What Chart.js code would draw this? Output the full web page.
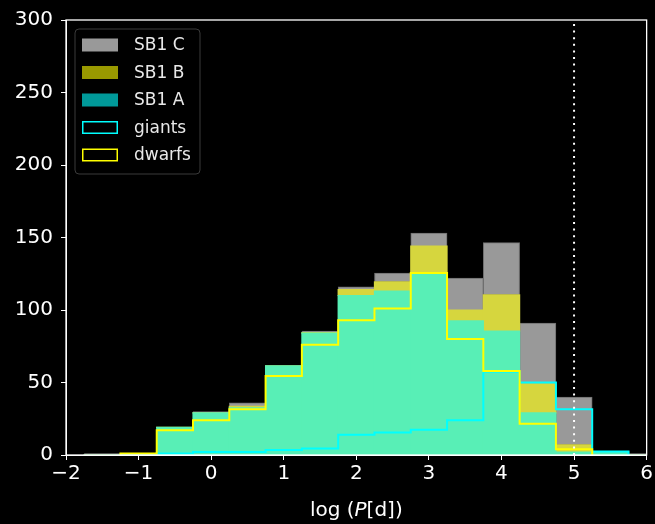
<!DOCTYPE html>
<html lang="en">
<head>
<meta charset="UTF-8">
<title>log P histogram</title>
<script src="https://cdn.jsdelivr.net/npm/chart.js@4.4.0/dist/chart.umd.min.js"></script>
<style>
  html, body { margin: 0; padding: 0; background: #000; }
  #wrap { width: 655px; height: 524px; }
</style>
</head>
<body>
<div id="wrap"><canvas id="histChart" width="655" height="524"></canvas></div>
<script>
// bin centres (log P in days), bins are 0.5 wide
const binCentres = [-1.5, -1.0, -0.5, 0.0, 0.5, 1.0, 1.5, 2.0, 2.5, 3.0, 3.5, 4.0, 4.5, 5.0, 5.5, 6.0];
const binWidth = 0.5;

// stacked filled histogram
const sb1A = [0, 1, 19, 29, 32.5, 61.5, 84, 110, 113, 125, 92.5, 85.5, 29, 2, 2, 0];
const sb1B = [0, 0, 0, 0, 1, 0, 0.5, 4, 6.5, 19, 7.5, 25, 20, 5, 0, 0];
const sb1C = [1, 0, 0, 1, 2.5, 0, 1, 2, 6, 9, 22, 36, 42, 33, 0, 1];

// step outlines
const giants = [0, 0, 1, 2, 2, 3.5, 4.5, 14, 15.5, 17.5, 24, 57.5, 50, 31.5, 2.5, 0];
const dwarfs = [0, 1, 17, 24, 31.5, 54.5, 76, 93, 101, 125.5, 80, 58, 21.5, 4, 0, 0];

const xTicks = [-2, -1, 0, 1, 2, 3, 4, 5, 6];
const yTicks = [0, 50, 100, 150, 200, 250, 300];
const cutoffLogP = 5;

const legendLabels = ['SB1 C', 'SB1 B', 'SB1 A', 'giants', 'dwarfs'];

Chart.defaults.font.family = 'DejaVu Sans';
Chart.defaults.color = '#ffffff';

function barData(values) {
    return binCentres.map((x, i) => ({ x: x, y: values[i] }));
}

// outline like matplotlib histtype='step', only over the non-empty range
function stepPoints(values) {
    const first = values.findIndex(v => v > 0);
    let last = first;
    values.forEach((v, i) => { if (v > 0) last = i; });
    const pts = [{ x: binCentres[first] - binWidth / 2, y: 0 }];
    for (let i = first; i <= last; i++) {
        pts.push({ x: binCentres[i] - binWidth / 2, y: values[i] });
    }
    pts.push({ x: binCentres[last] + binWidth / 2, y: 0 });
    return pts;
}

const frameAndLegend = {
    id: 'frameAndLegend',
    beforeDraw(chart) {
        const ctx = chart.ctx;
        ctx.save();
        ctx.fillStyle = '#000';
        ctx.fillRect(0, 0, chart.width, chart.height);
        ctx.restore();
    },
    afterDatasetsDraw(chart) {
        const ctx = chart.ctx;
        const a = chart.chartArea;
        ctx.save();
        // spines
        ctx.strokeStyle = '#ffffff';
        ctx.lineWidth = 1.3;
        ctx.strokeRect(a.left, a.top, a.right - a.left, a.bottom - a.top);

        // legend box
        const bx = 75, by = 29, bw = 125, bh = 145, r = 4;
        ctx.beginPath();
        ctx.moveTo(bx + r, by);
        ctx.arcTo(bx + bw, by, bx + bw, by + bh, r);
        ctx.arcTo(bx + bw, by + bh, bx, by + bh, r);
        ctx.arcTo(bx, by + bh, bx, by, r);
        ctx.arcTo(bx, by, bx + bw, by, r);
        ctx.closePath();
        ctx.fillStyle = 'rgba(0,0,0,0.8)';
        ctx.fill();
        ctx.strokeStyle = '#3a3a3a';
        ctx.lineWidth = 1;
        ctx.stroke();

        const swatches = [
            { fill: '#999999' },
            { fill: '#999900' },
            { fill: '#009999' },
            { stroke: '#00ffff' },
            { stroke: '#ffff00' }
        ];
        ctx.font = '17px "DejaVu Sans"';
        ctx.textBaseline = 'middle';
        ctx.textAlign = 'left';
        legendLabels.forEach((label, i) => {
            const cy = 45 + i * 27.5;
            const s = swatches[i];
            if (s.fill) {
                ctx.fillStyle = s.fill;
                ctx.fillRect(82, cy - 6.5, 36, 13);
            } else {
                ctx.strokeStyle = s.stroke;
                ctx.lineWidth = 1.5;
                ctx.strokeRect(82.75, cy - 5.75, 34.5, 11.5);
            }
            ctx.fillStyle = '#e8e8e8';
            ctx.fillText(label, 134, cy + 1);
        });

        // x axis title with italic P
        const parts = [
            { t: 'log (', f: '20px "DejaVu Sans"' },
            { t: 'P', f: 'italic 20px "DejaVu Sans"' },
            { t: '[d])', f: '20px "DejaVu Sans"' }
        ];
        let total = 0;
        parts.forEach(p => { ctx.font = p.f; p.w = ctx.measureText(p.t).width; total += p.w; });
        let x = (a.left + a.right) / 2 - total / 2;
        ctx.textBaseline = 'alphabetic';
        ctx.fillStyle = '#ffffff';
        parts.forEach(p => { ctx.font = p.f; ctx.fillText(p.t, x, 516); x += p.w; });
        ctx.restore();
    }
};

const histChart = new Chart(document.getElementById('histChart'), {
    type: 'bar',
    data: {
        datasets: [
            {
                label: 'SB1 A', data: barData(sb1A), backgroundColor: '#58efb6',
                borderWidth: 0, inflateAmount: 0.6, order: 5, barPercentage: 1, categoryPercentage: 1
            },
            {
                label: 'SB1 B', data: barData(sb1B), backgroundColor: '#d6d63e',
                borderWidth: 0, inflateAmount: 0.6, order: 5, barPercentage: 1, categoryPercentage: 1
            },
            {
                label: 'SB1 C', data: barData(sb1C), backgroundColor: '#999999',
                borderColor: '#6e6e6e', borderWidth: 1, borderSkipped: 'start',
                order: 5, barPercentage: 1, categoryPercentage: 1
            },
            {
                type: 'line', label: 'giants', data: stepPoints(giants), yAxisID: 'y2',
                borderColor: '#00ffff', borderWidth: 2, stepped: 'before',
                pointRadius: 0, fill: false, order: 2
            },
            {
                type: 'line', label: 'dwarfs', data: stepPoints(dwarfs), yAxisID: 'y2',
                borderColor: '#ffff00', borderWidth: 2, stepped: 'before',
                pointRadius: 0, fill: false, order: 1
            },
            {
                type: 'line', label: 'cut', data: [{ x: cutoffLogP, y: 0 }, { x: cutoffLogP, y: 300 }],
                yAxisID: 'y2', borderColor: '#ffffff', borderWidth: 2, borderDash: [2, 4.6],
                pointRadius: 0, fill: false, order: 0
            }
        ]
    },
    options: {
        responsive: false,
        animation: false,
        devicePixelRatio: 1,
        layout: { padding: { top: 20, right: 7, bottom: 0, left: 0 } },
        plugins: {
            legend: { display: false },
            tooltip: { enabled: false }
        },
        scales: {
            x: {
                type: 'linear',
                stacked: true,
                offset: false,
                min: -2,
                max: 6,
                afterBuildTicks: s => { s.ticks = xTicks.map(v => ({ value: v })); },
                afterFit: s => { s.height = 69; },
                ticks: {
                    font: { size: 20 },
                    color: '#ffffff',
                    padding: 2,
                    maxRotation: 0,
                    callback: v => String(v).replace('-', '\u2212')
                },
                grid: { display: true, offset: false, drawOnChartArea: false, drawTicks: true, tickLength: 5, color: '#ffffff' },
                border: { display: true, color: '#ffffff', width: 1 }
            },
            y: {
                stacked: true,
                min: 0,
                max: 300,
                afterBuildTicks: s => { s.ticks = yTicks.map(v => ({ value: v })); },
                afterFit: s => { s.width = 66; },
                ticks: { font: { size: 20 }, color: '#ffffff', padding: 8 },
                grid: { display: true, drawOnChartArea: false, drawTicks: true, tickLength: 5, color: '#ffffff' },
                border: { display: true, color: '#ffffff', width: 1 }
            },
            y2: {
                display: false,
                stacked: false,
                min: 0,
                max: 300
            }
        }
    },
    plugins: [frameAndLegend]
});
</script>
</body>
</html>
